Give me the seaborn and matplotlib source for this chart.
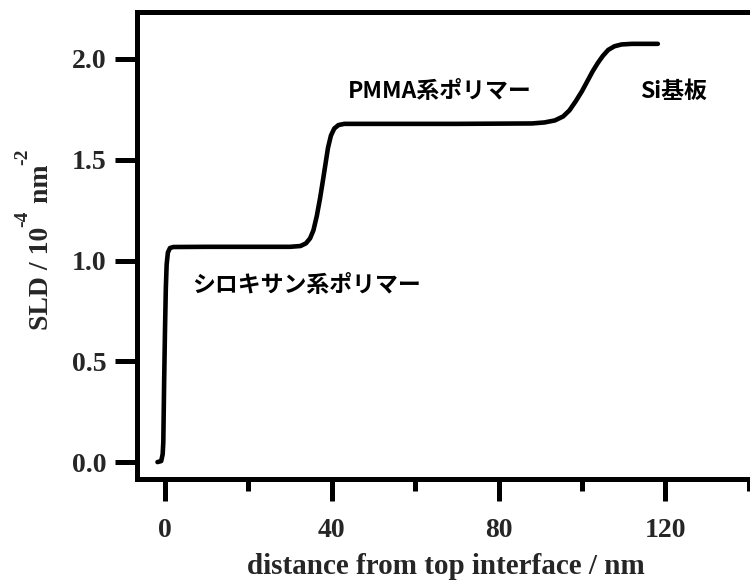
import matplotlib
matplotlib.use("Agg")
import matplotlib.pyplot as plt
import seaborn as sns
import pandas as pd
from matplotlib.ticker import MultipleLocator

# Data (distance in nm, SLD in 1e-4 nm^-2)
distance = [-1.8, -0.9, -0.55, -0.4, -0.2, 0.0, 0.2, 0.4, 0.7, 1.2, 2.0, 10, 20, 30,
            32.5, 33.8, 34.8, 35.6, 36.4, 37.2, 37.9, 38.5, 39.1, 39.8, 40.6, 41.6, 43,
            50, 70, 88, 91, 93.5, 95.5, 97, 98.5, 100, 101.3, 102.6, 103.8, 105, 106.3,
            107.8, 109.5, 112, 118.2]
sld = [0.0, 0.005, 0.04, 0.1, 0.4, 0.65, 0.86, 0.98, 1.04, 1.062, 1.067, 1.068, 1.068, 1.068,
       1.072, 1.085, 1.11, 1.15, 1.22, 1.31, 1.40, 1.48, 1.56, 1.62, 1.655, 1.672, 1.678,
       1.678, 1.678, 1.68, 1.685, 1.695, 1.715, 1.745, 1.79, 1.84, 1.89, 1.94, 1.98, 2.015, 2.045,
       2.063, 2.072, 2.075, 2.075]

labels = ["シロキサン系ポリマー", "PMMA系ポリマー", "Si基板"]
label_x = [6.5, 43.9, 113.9]
label_y = [0.878, 1.84, 1.84]

xticks = [0, 40, 80, 120]
yticks = [0.0, 0.5, 1.0, 1.5, 2.0]

ylabel_parts = ["SLD / 10", "-4", " nm", "-2"]
xlabel_text = "distance from top interface / nm"

sns.set_style("ticks")
plt.rcParams["font.family"] = ["Liberation Serif", "DejaVu Serif"]

df = pd.DataFrame({"distance": distance, "sld": sld})

W, H = 750, 583
fig = plt.figure(figsize=(7.5, 5.83), dpi=100)
ax = fig.add_axes([137 / W, 104 / H, 613 / W, 467 / H])

sns.lineplot(data=df, x="distance", y="sld", ax=ax, color="black", linewidth=3.3,
             sort=False, estimator=None)

ax.set_xlim(-6.71, 140.3)
ax.set_ylim(-0.084, 2.233)

ax.set_xticks(xticks)
ax.set_xticklabels([str(v) for v in xticks])
ax.xaxis.set_minor_locator(MultipleLocator(20))
ax.set_yticks(yticks)
ax.set_yticklabels([f"{v:.1f}" for v in yticks])

for s in ["left", "bottom", "top"]:
    ax.spines[s].set_linewidth(3.6)
    ax.spines[s].set_color("black")
ax.spines["right"].set_visible(False)

ax.tick_params(axis="both", which="major", length=16, width=3.6, color="black",
               labelsize=20, direction="out")
ax.tick_params(axis="x", which="major", pad=12)
ax.tick_params(axis="y", which="major", pad=6)
ax.tick_params(axis="x", which="minor", length=8.6, width=3.6, color="black")
ax.tick_params(axis="y", which="minor", left=False)
for lab in ax.get_xticklabels() + ax.get_yticklabels():
    lab.set_fontweight("bold")

ax.set_xlabel(xlabel_text, fontsize=21, fontweight="bold", labelpad=0)
ax.xaxis.set_label_coords((446 - 137) / 613, -(553 - 479) / 467)
ax.set_ylabel("")

# y label built from pieces so superscripts use a plain hyphen
renderer = fig.canvas.get_renderer()
y_cur = H - 330
for i, part in enumerate(ylabel_parts):
    sup = i % 2 == 1
    xb = 27 if sup else 48
    t = fig.text(xb / W, y_cur / H, part, rotation=90, rotation_mode="anchor",
                 ha="left", va="baseline", fontsize=14 if sup else 20, fontweight="bold")
    bb = t.get_window_extent(renderer)
    y_cur = bb.y1

for t, x, y in zip(labels, label_x, label_y):
    ax.text(x, y, t, fontsize=16.5, family=["Noto Sans CJK JP", "DejaVu Sans"],
            fontweight="bold", ha="left", va="center", color="black")

fig.savefig("out.png", dpi=100)
